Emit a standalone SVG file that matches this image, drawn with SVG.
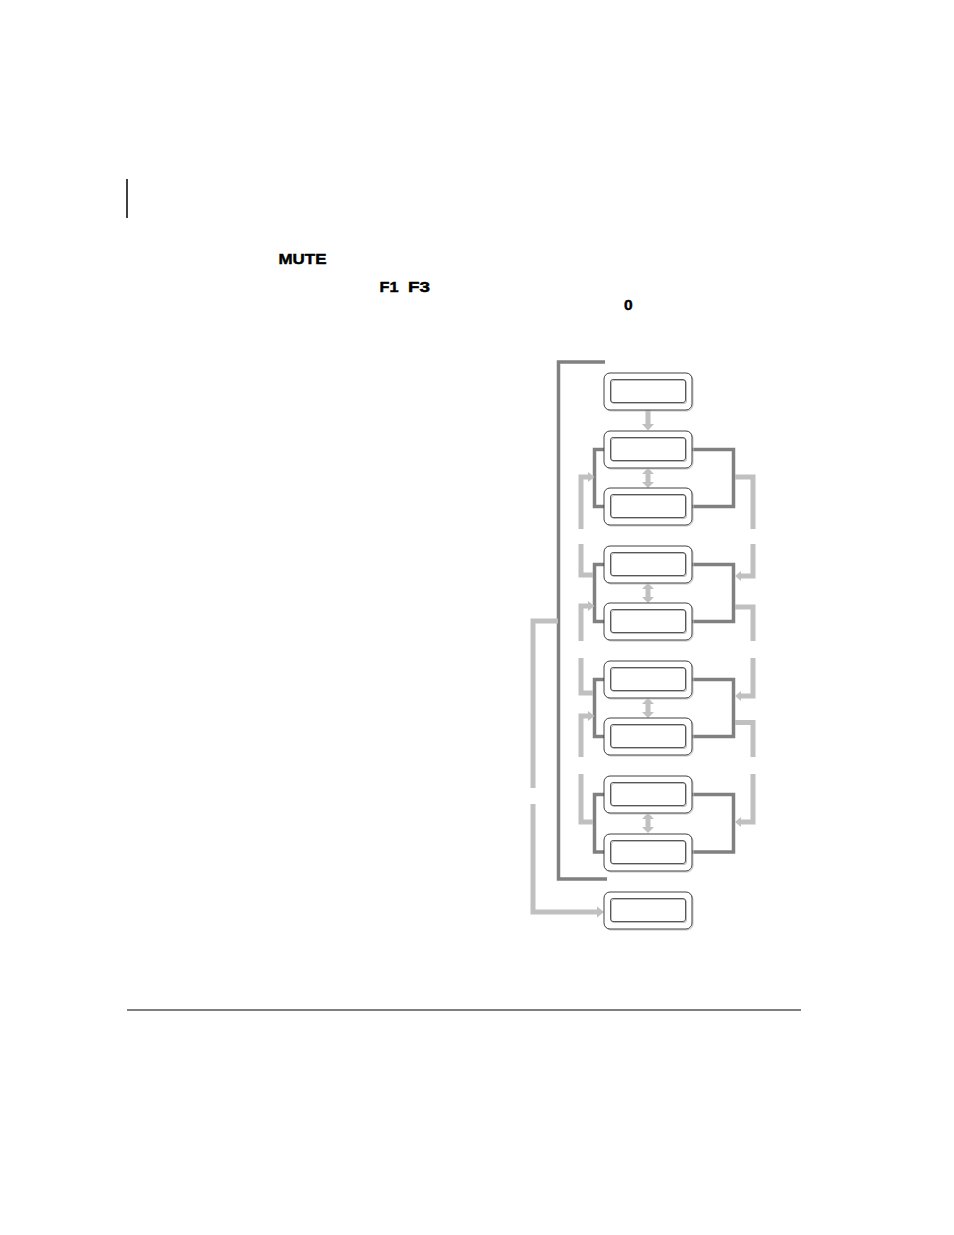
<svg xmlns="http://www.w3.org/2000/svg" width="954" height="1235" viewBox="0 0 954 1235">
<style>
.t{font-family:"Liberation Sans",Arial,sans-serif;font-weight:bold;font-size:15.5px;fill:#000;stroke:#000;stroke-width:0.45}
.dk{fill:none;stroke:#808080;stroke-width:3.5;stroke-linejoin:miter;stroke-linecap:butt}
.lt{fill:none;stroke:#c0c0c0;stroke-width:5;stroke-linejoin:miter;stroke-linecap:butt}
.lh{fill:#c0c0c0;stroke:none}
.ob{fill:#fff;stroke:#2a2a2a;stroke-width:0.9}
.os{fill:none;stroke:#c4c4c4;stroke-width:1}
.ib{fill:none;stroke:#444;stroke-width:0.9}
.is{fill:none;stroke:#bdbdbd;stroke-width:1}
</style>
<defs>
<g id="box">
<rect class="os" x="1" y="1" width="88" height="37" rx="6"/>
<rect class="ob" x="0" y="0" width="88" height="37" rx="6"/>
<rect class="is" x="7.5" y="7.5" width="75" height="23" rx="2.5"/>
<rect class="ib" x="6.5" y="6.5" width="75" height="23" rx="2.5"/>
</g>
</defs>
<line x1="127" y1="179" x2="127" y2="218" stroke="#000" stroke-width="1.5"/>
<line x1="127" y1="1010" x2="801" y2="1010" stroke="#808080" stroke-width="2"/>
<text class="t" x="278.5" y="264" textLength="48" lengthAdjust="spacingAndGlyphs">MUTE</text>
<text class="t" x="379.5" y="291.5" textLength="19" lengthAdjust="spacingAndGlyphs">F1</text>
<text class="t" x="408" y="291.5" textLength="22" lengthAdjust="spacingAndGlyphs">F3</text>
<text class="t" x="624" y="310">0</text>
<g id="connectors">
<path class="dk" d="M605,362 H558.5 V879 H607"/>
<path class="dk" d="M604,449.5 H594.5 V506.5 H604 M692,449.5 H733.5 V506.5 H692"/>
<path class="dk" d="M604,564.5 H594.5 V621.5 H604 M692,564.5 H733.5 V621.5 H692"/>
<path class="dk" d="M604,679.5 H594.5 V736.5 H604 M692,679.5 H733.5 V736.5 H692"/>
<path class="dk" d="M604,794.5 H594.5 V852 H604 M692,794.5 H733.5 V852 H692"/>
<path class="lt" d="M589,477 H581 V529"/>
<path class="lt" d="M581,544 V575 H593"/>
<path class="lt" d="M589,606 H581 V641"/>
<path class="lt" d="M581,658 V693 H593"/>
<path class="lt" d="M589,716 H581 V757"/>
<path class="lt" d="M581,774 V822 H593"/>
<path class="lt" d="M735,477 H753 V529"/>
<path class="lt" d="M753,544 V576 H740"/>
<path class="lt" d="M735,607 H753 V641"/>
<path class="lt" d="M753,658 V696 H740"/>
<path class="lt" d="M735,722.5 H753 V757"/>
<path class="lt" d="M753,774 V822 H740"/>
<path class="lt" d="M558,621 H533 V788"/>
<path class="lt" d="M533,804 V912 H598"/>
<polygon class="lh" points="588,472 594.5,477 588,482"/>
<polygon class="lh" points="588,601 594.5,606 588,611"/>
<polygon class="lh" points="588,711 594.5,716 588,721"/>
<polygon class="lh" points="741,571 735,576 741,581"/>
<polygon class="lh" points="741,691 735,696 741,701"/>
<polygon class="lh" points="741,817 735,822 741,827"/>
<polygon class="lh" points="597,906.5 604,912 597,917.5"/>
<rect class="lh" x="645.5" y="410" width="5" height="15"/>
<polygon class="lh" points="642,424 654,424 648,430.5"/>
<g>
<rect class="lh" x="645.5" y="472" width="5" height="12"/>
<polygon class="lh" points="642,474 654,474 648,468"/>
<polygon class="lh" points="642,482 654,482 648,488"/>
</g>
<g>
<rect class="lh" x="645.5" y="587" width="5" height="12"/>
<polygon class="lh" points="642,589 654,589 648,583"/>
<polygon class="lh" points="642,597 654,597 648,603"/>
</g>
<g>
<rect class="lh" x="645.5" y="702" width="5" height="12"/>
<polygon class="lh" points="642,704 654,704 648,698"/>
<polygon class="lh" points="642,712 654,712 648,718"/>
</g>
<g>
<rect class="lh" x="645.5" y="817" width="5" height="12"/>
<polygon class="lh" points="642,819 654,819 648,813"/>
<polygon class="lh" points="642,827 654,827 648,833"/>
</g>
</g>
<g id="node1"><use href="#box" x="604" y="373"/></g>
<g id="node2"><use href="#box" x="604" y="431"/></g>
<g id="node3"><use href="#box" x="604" y="488"/></g>
<g id="node4"><use href="#box" x="604" y="546"/></g>
<g id="node5"><use href="#box" x="604" y="603"/></g>
<g id="node6"><use href="#box" x="604" y="661"/></g>
<g id="node7"><use href="#box" x="604" y="718"/></g>
<g id="node8"><use href="#box" x="604" y="776"/></g>
<g id="node9"><use href="#box" x="604" y="834"/></g>
<g id="node10"><use href="#box" x="604" y="892"/></g>
</svg>
